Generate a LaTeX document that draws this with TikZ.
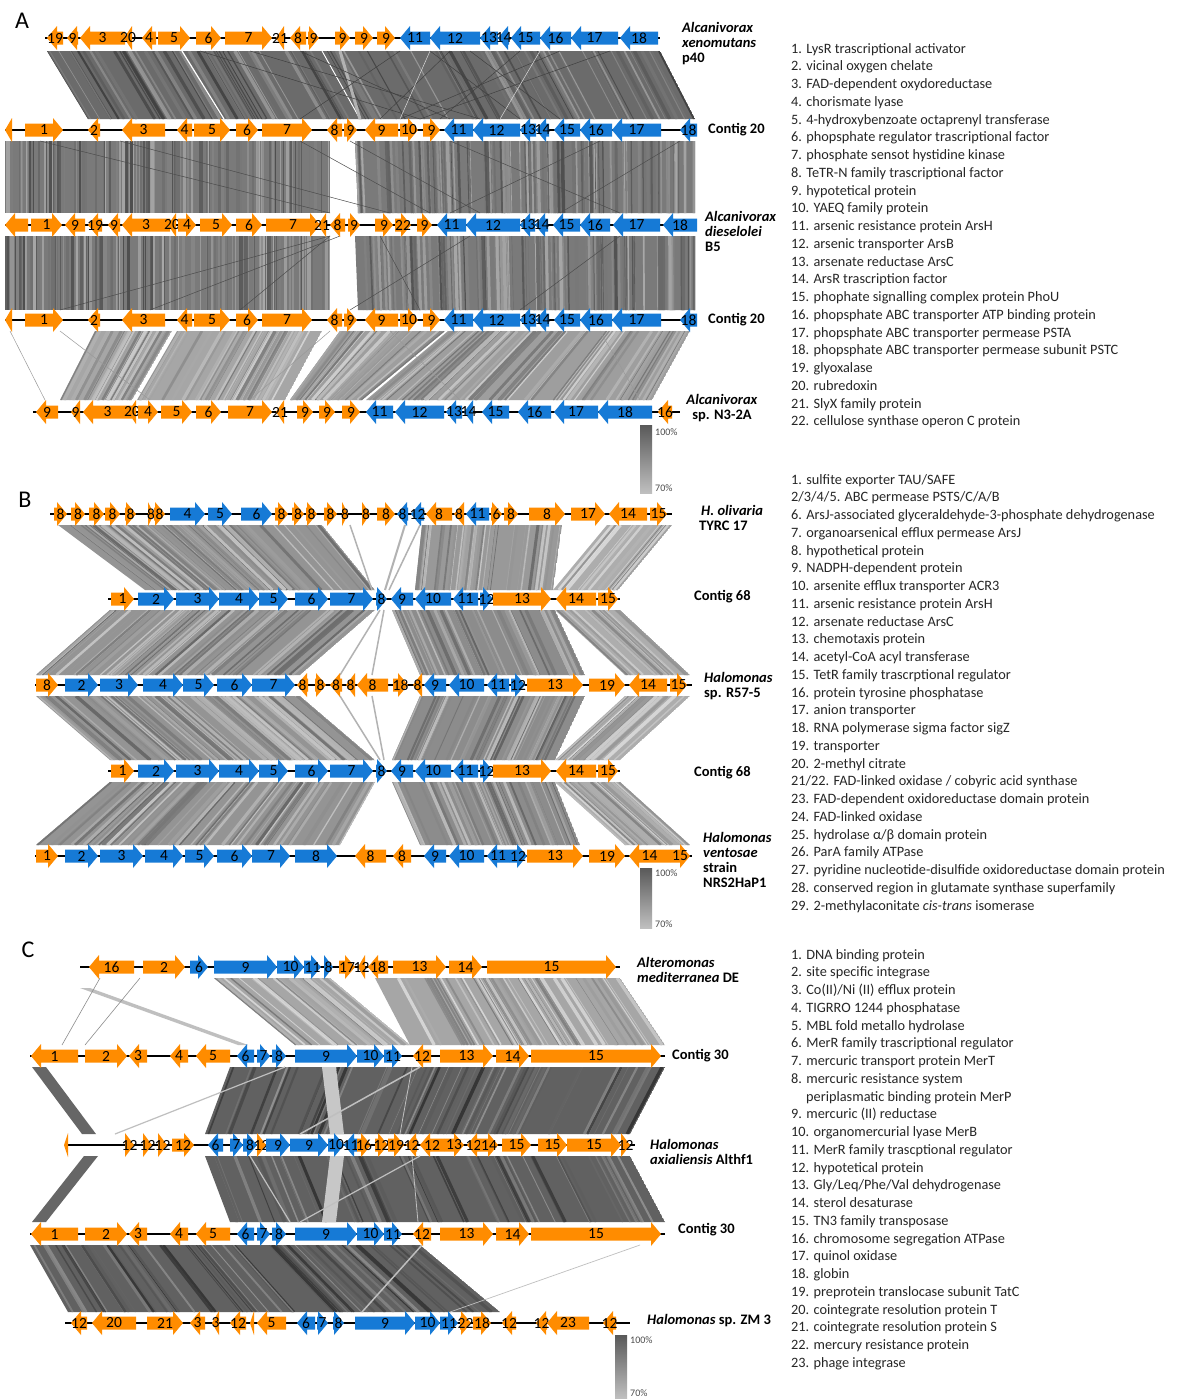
\documentclass[tikz,border=0pt]{standalone}
\usepackage{fontspec}
\setmainfont{Carlito}
\definecolor{go}{RGB}{255,140,0}
\definecolor{gb}{RGB}{22,122,214}
\newcounter{gid}
\def\ty{0}
\tikzset{
  backbone/.style={line width=2.4pt, black},
  glab/.style={font=\fontsize{15.5}{15.5}\selectfont, inner sep=0pt, text=black},
  sp/.style={font=\fontsize{14.5}{15}\selectfont\bfseries, inner sep=0pt, align=left},
  leg/.style={font=\fontsize{14.3}{17.75}\selectfont, inner sep=0pt, align=left, text=black!85},
  pct/.style={font=\fontsize{10}{10}\selectfont, inner sep=0pt, text=black!70},
  panel/.style={font=\fontsize{24}{24}\selectfont, inner sep=0pt}
}
\newcommand{\track}[3]{\gdef\ty{#1}\draw[backbone] (#2,#1) -- (#3,#1);}
\newcommand{\gR}[4]{%
  \pgfmathsetmacro\xh{max(#1,#2-10)}%
  \fill[#3] (#1,\ty-6.5) -- (\xh,\ty-6.5) -- (\xh,\ty-12) -- (#2,\ty) -- (\xh,\ty+12) -- (\xh,\ty+6.5) -- (#1,\ty+6.5) -- cycle;
  \stepcounter{gid}\node[glab] (g\thegid) at ({(#1+#2)/2},\ty) {#4};}
\newcommand{\gL}[4]{%
  \pgfmathsetmacro\xh{min(#2,#1+10)}%
  \fill[#3] (#2,\ty-6.5) -- (\xh,\ty-6.5) -- (\xh,\ty-12) -- (#1,\ty) -- (\xh,\ty+12) -- (\xh,\ty+6.5) -- (#2,\ty+6.5) -- cycle;
  \stepcounter{gid}\node[glab] (g\thegid) at ({(#1+#2)/2},\ty) {#4};}
\newcommand{\rib}[8]{%
  \begin{scope}
  \clip (#3,#1) -- (#4,#1) -- (#6,#2) -- (#5,#2) -- cycle;
  \fill[black!#7] (#3,#1) -- (#4,#1) -- (#6,#2) -- (#5,#2) -- cycle;
  \foreach \i in {1,...,#8}{%
    \pgfmathsetmacro\t{rnd}%
    \pgfmathsetmacro\w{0.5+3*rnd}%
    \pgfmathtruncatemacro\g{#7-18+36*rnd}%
    \draw[black!\g, line width=\w pt] ({#3+\t*(#4-#3)},#1) -- ({#5+\t*(#6-#5)},#2);
  }
  \end{scope}}
\newcommand{\contigA}[1]{%
  \track{#1}{5}{697}
  \gL{5}{12}{go}{}
  \gR{25}{63}{go}{1}
  \gL{88}{100}{go}{2}
  \gL{122}{165}{go}{3}
  \gL{177}{192}{go}{4}
  \gR{194}{230}{go}{5}
  \gR{236}{258}{go}{6}
  \gR{262}{312}{go}{7}
  \gL{327}{342}{go}{8}
  \gR{344}{357}{go}{9}
  \gL{365}{398}{go}{9}
  \gR{400}{418}{go}{10}
  \gR{423}{440}{go}{9}
  \gL{444}{473}{gb}{11}
  \gL{473}{520}{gb}{12}
  \gL{520}{536}{gb}{13}
  \gL{536}{549}{gb}{14}
  \gL{554}{580}{gb}{15}
  \gL{580}{612}{gb}{16}
  \gL{612}{661}{gb}{17}
  \gL{680}{697}{gb}{18}}
\newcommand{\contigB}[1]{%
  \track{#1}{108}{620}
  \gR{111}{134}{go}{1}
  \gR{138}{174}{gb}{2}
  \gR{176}{219}{gb}{3}
  \gR{219}{259}{gb}{4}
  \gR{259}{288}{gb}{5}
  \gR{295}{328}{gb}{6}
  \gR{330}{373}{gb}{7}
  \gR{376}{387}{gb}{8}
  \gL{391}{413}{gb}{9}
  \gL{415}{451}{gb}{10}
  \gL{453}{478}{gb}{11}
  \gR{480}{493}{gb}{12}
  \gR{493}{551}{go}{13}
  \gL{556}{596}{go}{14}
  \gR{598}{618}{go}{15}}
\newcommand{\contigC}[1]{%
  \track{#1}{30}{665}
  \gL{31}{78}{go}{1}
  \gR{85}{127}{go}{2}
  \gL{129}{147}{go}{3}
  \gL{170}{188}{go}{4}
  \gL{196}{230}{go}{5}
  \gL{237}{254}{gb}{6}
  \gR{257}{270}{gb}{7}
  \gR{272}{286}{gb}{8}
  \gR{295}{357}{gb}{9}
  \gR{357}{384}{gb}{10}
  \gR{384}{402}{gb}{11}
  \gL{413}{431}{go}{12}
  \gR{440}{493}{go}{13}
  \gR{496}{529}{go}{14}
  \gR{531}{661}{go}{15}}
\begin{document}
\begin{tikzpicture}[x=1pt,y=-1pt]
\pgfmathsetseed{7}
\useasboundingbox (0,0) rectangle (1185,1400);
\fill[white] (0,0) rectangle (1185,1400);

% ================= PANEL A ribbons =================
\rib{51}{119}{47}{660}{88}{695}{58}{110}
\draw[white, line width=1.2pt] (182,51) -- (224,119);
\draw[white, line width=1pt] (322,51) -- (360,119);
\draw[black!30, line width=3pt] (340,51) -- (360,119);
\foreach \a/\b in {400/300, 450/380, 560/400, 610/420, 300/450, 250/480, 520/440, 470/560, 430/520, 200/420}
  \draw[black!75, line width=0.5pt] (\a,51) -- (\b,119);
\foreach \a/\b in {430/400, 540/500}
  \draw[white!85!black, line width=0.5pt] (\a,51) -- (\b,119);
\rib{141}{213}{5}{330}{5}{330}{52}{130}
\rib{141}{213}{355}{695}{358}{695}{52}{130}
\foreach \a/\b in {40/330, 120/390, 300/430, 350/480, 600/450, 450/620, 680/560}
  \draw[black!70, line width=0.5pt] (\a,141) -- (\b,213);
\rib{236}{310}{5}{330}{5}{330}{52}{130}
\rib{236}{310}{355}{695}{358}{695}{52}{130}
\foreach \a/\b in {330/60, 340/150, 330/240, 380/420, 470/350, 620/520}
  \draw[black!70, line width=0.5pt] (\a,236) -- (\b,310);
\rib{331}{400}{95}{172}{60}{132}{35}{35}
\rib{331}{400}{177}{322}{137}{285}{35}{45}
\rib{331}{400}{340}{445}{290}{362}{38}{35}
\rib{331}{400}{448}{690}{366}{652}{38}{70}
\foreach \a/\b in {10/45, 60/150, 330/250, 390/460, 600/640}
  \draw[black!40, line width=0.5pt] (\a,331) -- (\b,400);

% ================= PANEL A tracks =================
\track{38}{45}{660}
\gL{47}{63}{go}{19}
\gL{67}{78}{go}{9}
\gL{80}{125}{go}{3}
\gL{124}{132}{go}{20}
\gL{142}{156}{go}{4}
\gR{158}{190}{go}{5}
\gR{196}{221}{go}{6}
\gR{225}{272}{go}{7}
\gL{276}{284}{go}{21}
\gL{290}{306}{go}{8}
\gR{308}{319}{go}{9}
\gR{335}{350}{go}{9}
\gR{355}{373}{go}{9}
\gR{377}{395}{go}{9}
\gL{400}{430}{gb}{11}
\gL{430}{480}{gb}{12}
\gL{480}{498}{gb}{13}
\gL{498}{509}{gb}{14}
\gL{511}{540}{gb}{15}
\gL{540}{571}{gb}{16}
\gL{571}{618}{gb}{17}
\gL{620}{658}{gb}{18}

\contigA{130}

\track{225}{5}{697}
\gL{5}{28}{go}{}
\gR{31}{62}{go}{1}
\gL{65}{85}{go}{9}
\gL{88}{102}{go}{19}
\gL{108}{120}{go}{9}
\gL{122}{170}{go}{3}
\gL{168}{176}{go}{20}
\gR{178}{196}{go}{4}
\gR{200}{232}{go}{5}
\gR{236}{262}{go}{6}
\gR{266}{320}{go}{7}
\gL{318}{326}{go}{21}
\gL{330}{345}{go}{8}
\gR{348}{360}{go}{9}
\gR{375}{393}{go}{9}
\gR{395}{411}{go}{22}
\gR{417}{432}{go}{9}
\gL{437}{466}{gb}{11}
\gL{466}{520}{gb}{12}
\gL{520}{535}{gb}{13}
\gL{535}{548}{gb}{14}
\gL{553}{580}{gb}{15}
\gL{580}{610}{gb}{16}
\gL{613}{660}{gb}{17}
\gL{663}{697}{gb}{18}

\contigA{320}

\track{412}{33}{680}
\gL{36}{58}{go}{9}
\gL{71}{80}{go}{9}
\gL{83}{132}{go}{3}
\gL{128}{136}{go}{20}
\gR{138}{158}{go}{4}
\gR{161}{192}{go}{5}
\gR{196}{221}{go}{6}
\gR{228}{272}{go}{7}
\gL{276}{284}{go}{21}
\gR{297}{313}{go}{9}
\gR{319}{335}{go}{9}
\gR{342}{360}{go}{9}
\gL{366}{393}{gb}{11}
\gL{395}{444}{gb}{12}
\gL{446}{462}{gb}{13}
\gL{464}{473}{gb}{14}
\gL{482}{509}{gb}{15}
\gL{518}{551}{gb}{16}
\gL{554}{598}{gb}{17}
\gL{598}{652}{gb}{18}
\gL{658}{672}{go}{16}

\shade[top color=black!65, bottom color=black!25] (640,425) rectangle (652,493);
\node[pct, anchor=west] (pa1) at (655,432) {100\%};
\node[pct, anchor=west] (pa2) at (655,488) {70\%};

\node[panel] (pA) at (22,21) {A};
\node[sp, anchor=west] (sA1) at (682,44) {\textit{Alcanivorax}\\\textit{xenomutans}\\p40};
\node[sp, anchor=west] (sA2) at (708,130) {Contig 20};
\node[sp, anchor=west] (sA3) at (705,231) {\textit{Alcanivorax}\\\textit{dieselolei}\\B5};
\node[sp, anchor=west] (sA4) at (708,320) {Contig 20};
\node[sp, align=center] (sA5) at (722,408) {\textit{Alcanivorax}\\sp. N3-2A};

\node[leg, anchor=north west] (legA) at (791,43) {1. LysR trascriptional activator\\
2. vicinal oxygen chelate\\
3. FAD-dependent oxydoreductase\\
4. chorismate lyase\\
5. 4-hydroxybenzoate octaprenyl transferase\\
6. phopsphate regulator trascriptional factor\\
7. phosphate sensot hystidine kinase\\
8. TeTR-N family trascriptional factor\\
9. hypotetical protein\\
10. YAEQ family protein\\
11. arsenic resistance protein ArsH\\
12. arsenic transporter ArsB\\
13. arsenate reductase ArsC\\
14. ArsR trascription factor\\
15. phophate signalling complex protein PhoU\\
16. phopsphate ABC transporter ATP binding protein\\
17. phopsphate ABC transporter permease PSTA\\
18. phopsphate ABC transporter permease subunit PSTC\\
19. glyoxalase\\
20. rubredoxin\\
21. SlyX family protein\\
22. cellulose synthase operon C protein};

% ================= PANEL B ribbons =================
\rib{525}{590}{58}{322}{145}{375}{42}{70}
\rib{525}{590}{422}{562}{415}{553}{40}{45}
\rib{525}{590}{607}{672}{553}{618}{32}{20}
\draw[black!30, line width=1.5pt] (350,525) -- (372,590);
\draw[black!30, line width=2pt] (405,525) -- (385,590);
\draw[black!30, line width=1.5pt] (420,525) -- (389,590);
\rib{610}{675}{110}{375}{36}{300}{42}{70}
\rib{610}{675}{392}{555}{420}{585}{45}{45}
\rib{610}{675}{555}{620}{625}{690}{32}{20}
\draw[black!30, line width=1.5pt] (380,610) -- (340,675);
\draw[black!30, line width=1.5pt] (384,610) -- (372,675);
\rib{696}{760}{36}{300}{110}{375}{42}{70}
\rib{696}{760}{420}{585}{392}{555}{45}{45}
\rib{696}{760}{625}{690}{555}{620}{32}{20}
\draw[black!30, line width=1.5pt] (340,696) -- (380,760);
\draw[black!30, line width=1.5pt] (372,696) -- (384,760);
\rib{782}{845}{110}{375}{36}{340}{42}{70}
\rib{782}{845}{392}{555}{420}{580}{45}{45}
\rib{782}{845}{555}{620}{625}{690}{32}{20}

% ================= PANEL B tracks =================
\track{514}{50}{672}
\gR{54}{67}{go}{8}
\gR{71}{85}{go}{8}
\gR{89}{104}{go}{8}
\gR{105}{120}{go}{8}
\gR{125}{136}{go}{8}
\gR{148}{154}{go}{8}
\gR{154}{165}{go}{8}
\gR{170}{205}{gb}{4}
\gR{208}{232}{gb}{5}
\gR{241}{272}{gb}{6}
\gR{275}{288}{go}{8}
\gR{292}{304}{go}{8}
\gR{306}{317}{go}{8}
\gR{324}{337}{go}{8}
\gR{342}{348}{go}{8}
\gR{362}{370}{go}{8}
\gR{377}{395}{go}{8}
\gL{397}{408}{gb}{8}
\gL{411}{424}{gb}{12}
\gL{426}{452}{go}{8}
\gL{454}{464}{go}{8}
\gL{466}{489}{gb}{11}
\gR{491}{502}{go}{6}
\gR{504}{518}{go}{8}
\gR{529}{565}{go}{8}
\gR{571}{605}{go}{17}
\gL{609}{647}{go}{14}
\gR{650}{667}{go}{15}

\contigB{599}

\track{685}{35}{692}
\gR{36}{58}{go}{8}
\gR{65}{98}{gb}{2}
\gR{100}{138}{gb}{3}
\gR{143}{183}{gb}{4}
\gR{183}{214}{gb}{5}
\gR{217}{252}{gb}{6}
\gR{252}{295}{gb}{7}
\gL{297}{308}{go}{8}
\gR{315}{326}{go}{8}
\gL{330}{342}{go}{8}
\gL{346}{355}{go}{8}
\gL{357}{388}{go}{8}
\gR{393}{408}{go}{18}
\gL{413}{422}{go}{8}
\gL{424}{446}{gb}{9}
\gL{449}{484}{gb}{10}
\gL{487}{509}{gb}{11}
\gR{511}{525}{gb}{12}
\gR{527}{583}{go}{13}
\gR{589}{625}{go}{19}
\gL{629}{667}{go}{14}
\gR{670}{687}{go}{15}

\contigB{771}

\track{856}{35}{692}
\gR{36}{58}{go}{1}
\gR{65}{98}{gb}{2}
\gR{100}{143}{gb}{3}
\gR{145}{183}{gb}{4}
\gR{185}{214}{gb}{5}
\gR{217}{252}{gb}{6}
\gR{252}{290}{gb}{7}
\gR{295}{337}{gb}{8}
\gL{355}{386}{go}{8}
\gL{393}{411}{go}{8}
\gL{424}{446}{gb}{9}
\gL{449}{484}{gb}{10}
\gL{487}{509}{gb}{11}
\gR{509}{527}{gb}{12}
\gR{527}{583}{go}{13}
\gR{589}{625}{go}{19}
\gL{629}{670}{go}{14}
\gR{670}{690}{go}{15}

\shade[top color=black!65, bottom color=black!25] (640,868) rectangle (652,928);
\node[pct, anchor=west] (pb1) at (655,873) {100\%};
\node[pct, anchor=west] (pb2) at (655,924) {70\%};

\node[panel] (pB) at (25,500) {B};
\node[sp, anchor=west] (sB1) at (699,518) {\hspace*{2pt}\textit{H. olivaria}\\TYRC 17};
\node[sp, anchor=west] (sB2) at (694,597) {Contig 68};
\node[sp, anchor=west] (sB3) at (704,686) {\textit{Halomonas}\\sp. R57-5};
\node[sp, anchor=west] (sB4) at (694,773) {Contig 68};
\node[sp, anchor=west] (sB5) at (703,860) {\textit{Halomonas}\\\textit{ventosae}\\strain\\NRS2HaP1};

\node[leg, anchor=north west] (legB) at (791,474) {1. sulfite exporter TAU/SAFE\\
2/3/4/5. ABC permease PSTS/C/A/B\\
6. ArsJ-associated glyceraldehyde-3-phosphate dehydrogenase\\
7. organoarsenical efflux permease ArsJ\\
8. hypothetical protein\\
9. NADPH-dependent protein\\
10. arsenite efflux transporter ACR3\\
11. arsenic resistance protein ArsH\\
12. arsenate reductase ArsC\\
13. chemotaxis protein\\
14. acetyl-CoA acyl transferase\\
15. TetR family trascrptional regulator\\
16. protein tyrosine phosphatase\\
17. anion transporter\\
18. RNA polymerase sigma factor sigZ\\
19. transporter\\
20. 2-methyl citrate\\
21/22. FAD-linked oxidase / cobyric acid synthase\\
23. FAD-dependent oxidoreductase domain protein\\
24. FAD-linked oxidase\\
25. hydrolase α/β domain protein\\
26. ParA family ATPase\\
27. pyridine nucleotide-disulfide oxidoreductase domain protein\\
28. conserved region in glutamate synthase superfamily\\
29. 2-methylaconitate \textit{cis-trans} isomerase};

% ================= PANEL C ribbons =================
\rib{978}{1045}{214}{330}{295}{410}{35}{30}
\rib{978}{1045}{375}{620}{410}{665}{35}{55}
\fill[black!25] (80,988) -- (90,988) -- (248,1045) -- (238,1045) -- cycle;
\draw[black!45, line width=0.6pt] (100,978) -- (62,1045);
\draw[black!45, line width=0.6pt] (140,978) -- (85,1045);
\rib{1067}{1134}{230}{665}{205}{630}{62}{60}
\fill[black!60] (32,1067) -- (46,1067) -- (96,1134) -- (82,1134) -- cycle;
\fill[black!22] (322,1067) -- (336,1067) -- (344,1134) -- (330,1134) -- cycle;
\draw[black!25, line width=1.5pt] (420,1067) -- (300,1134);
\draw[black!25, line width=1.2pt] (115,1134) -- (285,1067);
\draw[black!25, line width=0.8pt] (400,1134) -- (412,1067);
\rib{1156}{1222}{205}{630}{230}{665}{62}{60}
\fill[black!60] (84,1156) -- (98,1156) -- (46,1222) -- (32,1222) -- cycle;
\fill[black!22] (330,1156) -- (344,1156) -- (336,1222) -- (322,1222) -- cycle;
\draw[black!25, line width=1.2pt] (250,1156) -- (290,1222);
\draw[black!25, line width=1.2pt] (420,1156) -- (300,1222);
\draw[black!25, line width=0.8pt] (412,1156) -- (418,1222);
\rib{1245}{1312}{30}{420}{68}{500}{62}{60}
\draw[black!25, line width=1.5pt] (422,1245) -- (362,1312);
\draw[black!25, line width=0.7pt] (640,1245) -- (450,1312);

% ================= PANEL C tracks =================
\track{967}{80}{620}
\gL{89}{134}{go}{16}
\gR{143}{185}{go}{2}
\gR{190}{208}{gb}{6}
\gR{214}{277}{gb}{9}
\gR{277}{304}{gb}{10}
\gR{304}{321}{gb}{11}
\gR{324}{333}{gb}{8}
\gR{339}{355}{go}{17}
\gL{358}{365}{go}{12}
\gL{368}{388}{go}{18}
\gR{393}{446}{go}{13}
\gR{449}{482}{go}{14}
\gR{487}{616}{go}{15}

\contigC{1056}

\track{1145}{65}{635}
\gL{64}{68}{go}{}
\gR{125}{134}{go}{12}
\gR{143}{152}{go}{12}
\gR{158}{167}{go}{12}
\gR{172}{194}{go}{12}
\gL{208}{223}{gb}{6}
\gR{230}{243}{gb}{7}
\gR{243}{257}{gb}{8}
\gR{257}{266}{go}{12}
\gR{266}{290}{gb}{9}
\gR{290}{328}{gb}{9}
\gR{328}{344}{gb}{10}
\gL{344}{357}{gb}{11}
\gR{357}{371}{go}{16}
\gR{375}{388}{go}{12}
\gR{388}{404}{go}{19}
\gL{406}{417}{go}{12}
\gL{420}{444}{go}{12}
\gR{444}{464}{go}{13}
\gL{467}{480}{go}{12}
\gR{480}{498}{go}{14}
\gR{502}{531}{go}{15}
\gR{538}{567}{go}{15}
\gR{567}{621}{go}{15}
\gR{621}{630}{go}{12}

\contigC{1234}

\track{1323}{65}{630}
\gL{71}{87}{go}{12}
\gL{92}{136}{go}{20}
\gR{147}{183}{go}{21}
\gL{190}{205}{go}{3}
\gL{212}{219}{go}{3}
\gL{230}{246}{go}{12}
\gL{250}{254}{go}{}
\gL{257}{286}{go}{5}
\gL{297}{315}{gb}{6}
\gR{317}{328}{gb}{7}
\gR{333}{344}{gb}{8}
\gR{355}{415}{gb}{9}
\gR{415}{440}{gb}{10}
\gR{440}{458}{gb}{11}
\gR{460}{471}{go}{22}
\gR{473}{491}{go}{18}
\gL{502}{516}{go}{12}
\gL{536}{547}{go}{12}
\gL{547}{589}{go}{23}
\gL{603}{616}{go}{12}

\shade[top color=black!65, bottom color=black!25] (615,1335) rectangle (627,1398);
\node[pct, anchor=west] (pc1) at (630,1340) {100\%};
\node[pct, anchor=west] (pc2) at (630,1393) {70\%};

\node[panel] (pC) at (28,950) {C};
\node[sp, anchor=west] (sC1) at (637,970) {\textit{Alteromonas}\\\textit{mediterranea} DE};
\node[sp, anchor=west] (sC2) at (672,1056) {Contig 30};
\node[sp, anchor=west] (sC3) at (650,1152) {\textit{Halomonas}\\\textit{axialiensis} Althf1};
\node[sp, anchor=west] (sC4) at (678,1230) {Contig 30};
\node[sp, anchor=west] (sC5) at (647,1321) {\textit{Halomonas} sp. ZM 3};

\node[leg, anchor=north west] (legC) at (791,949) {1. DNA binding protein\\
2. site specific integrase\\
3. Co(II)/Ni (II) efflux protein\\
4. TIGRRO 1244 phosphatase\\
5. MBL fold metallo hydrolase\\
6. MerR family trascriptional regulator\\
7. mercuric transport protein MerT\\
8. mercuric resistance system\\
\hspace*{15pt}periplasmatic binding protein MerP\\
9. mercuric (II) reductase\\
10. organomercurial lyase MerB\\
11. MerR family trascptional regulator\\
12. hypotetical protein\\
13. Gly/Leq/Phe/Val dehydrogenase\\
14. sterol desaturase\\
15. TN3 family transposase\\
16. chromosome segregation ATPase\\
17. quinol oxidase\\
18. globin\\
19. preprotein translocase subunit TatC\\
20. cointegrate resolution protein T\\
21. cointegrate resolution protein S\\
22. mercury resistance protein\\
23. phage integrase};
\end{tikzpicture}
\end{document}
